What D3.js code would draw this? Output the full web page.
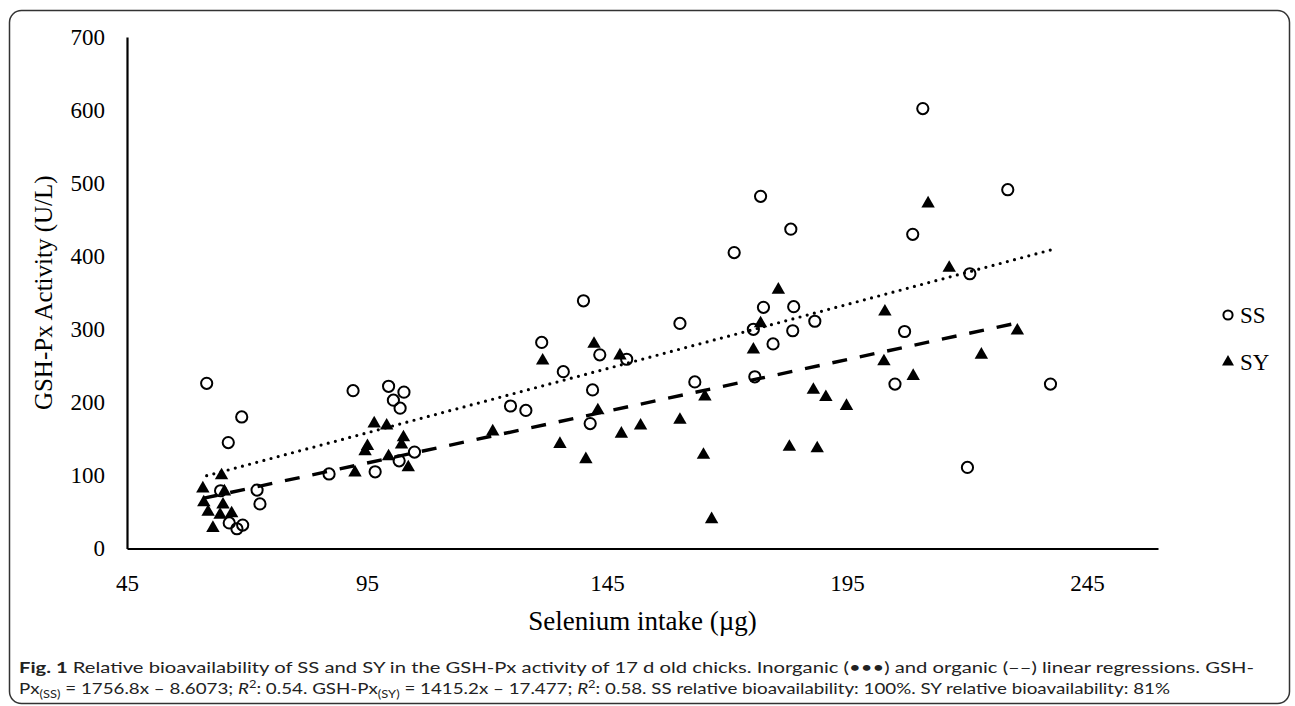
<!DOCTYPE html>
<html>
<head>
<meta charset="utf-8">
<script src="https://cdn.jsdelivr.net/npm/d3@7"></script>
<style>
  html, body { margin: 0; padding: 0; background: #fff; }
  svg { display: block; }
</style>
</head>
<body>
<div id="chart"></div>
<script>
// Sodium selenite (SS) points: selenium intake (µg) vs GSH-Px (U/L)
const ssX = [61.6, 68.9, 66.1, 64.5, 72.1, 72.7, 66.3, 67.9, 69.1,
             92.1, 99.5, 102.7, 100.5, 101.9, 104.9, 101.7, 96.7, 87.1,
             124.9, 128.1, 131.4, 135.9, 140.1, 141.5, 142.0, 143.5, 149.1, 160.2, 163.3, 171.5,
             175.5, 175.8, 177.0, 177.6, 179.6, 183.3, 183.7, 183.9, 188.3, 205.0, 207.0, 208.7,
             210.8, 220.1, 220.6, 228.5, 237.4];
const ssY = [226, 180, 145, 79, 80, 61, 35, 27, 32,
             216, 222, 214, 203, 192, 132, 120, 105, 102,
             195, 189, 282, 242, 339, 171, 217, 265, 259, 308, 228, 405,
             300, 235, 482, 330, 280, 437, 298, 331, 311, 225, 297, 430,
             602, 111, 376, 491, 225];

// Selenium yeast (SY) points
const syX = [60.8, 61.0, 61.9, 62.9, 64.4, 64.7, 65.0, 65.3, 66.8,
             92.5, 94.6, 95.1, 96.5, 99.1, 99.5, 102.2, 102.6, 103.6,
             121.2, 131.6, 135.2, 140.6, 142.3, 143.1, 147.7, 148.0, 152.0, 160.2, 165.1, 165.4, 166.8,
             175.5, 177.0, 180.7, 183.0, 188.0, 188.8, 190.6, 194.9, 202.7, 202.9, 208.8, 211.9,
             216.3, 223.0, 230.5];
const syY = [82, 63, 50, 28, 46, 100, 60, 78, 48,
             104, 133, 140, 171, 168, 126, 142, 152, 111,
             160, 257, 143, 122, 280, 189, 264, 157, 168, 176, 128, 208, 40,
             272, 308, 354, 139, 217, 137, 207, 195, 256, 324, 236, 472,
             384, 265, 298];

// regression coefficients from the caption (x in mg)
const ssFit = [1756.8, -8.6073];
const syFit = [1415.2, -17.477];

const xTicks = [45, 95, 145, 195, 245];
const yTicks = [0, 100, 200, 300, 400, 500, 600, 700];
const seriesNames = ["SS", "SY"];

const W = 1295, H = 706;
const margin = { left: 127, right: 1158, top: 37, bottom: 548.5 };

const svg = d3.select("#chart").append("svg")
  .attr("width", W)
  .attr("height", H);

// outer frame
svg.append("rect")
  .attr("x", 9.5).attr("y", 10.5)
  .attr("width", 1280).attr("height", 693)
  .attr("rx", 12)
  .attr("fill", "none")
  .attr("stroke", "#333")
  .attr("stroke-width", 1.5);

const x = d3.scaleLinear().domain([45, 259.8]).range([margin.left, margin.right]);
const y = d3.scaleLinear().domain([0, 700]).range([margin.bottom, margin.top]);

const serif = "'Liberation Serif', 'Times New Roman', serif";

// axes
const xAxis = svg.append("g")
  .attr("transform", `translate(0,${margin.bottom})`)
  .call(d3.axisBottom(x).tickValues(xTicks).tickSize(0).tickPadding(26));
xAxis.select(".domain").attr("stroke", "#000").attr("stroke-width", 2.2);
xAxis.selectAll("text")
  .attr("font-family", serif).attr("font-size", "23px").attr("fill", "#000");

const yAxis = svg.append("g")
  .attr("transform", `translate(${margin.left},0)`)
  .call(d3.axisLeft(y).tickValues(yTicks).tickSize(0).tickPadding(22));
yAxis.select(".domain").attr("stroke", "#000").attr("stroke-width", 2.2);
yAxis.selectAll("text")
  .attr("font-family", serif).attr("font-size", "23px").attr("fill", "#000");

// axis titles
svg.append("text")
  .attr("x", (margin.left + margin.right) / 2)
  .attr("y", 630)
  .attr("text-anchor", "middle")
  .attr("font-family", serif).attr("font-size", "27px")
  .text("Selenium intake (\u00b5g)");

svg.append("text")
  .attr("transform", `translate(52,${(margin.top + margin.bottom) / 2}) rotate(-90)`)
  .attr("text-anchor", "middle")
  .attr("font-family", serif).attr("font-size", "25px")
  .text("GSH-Px Activity (U/L)");

const ss = ssX.map((d, i) => ({ x: d, y: ssY[i] }));
const sy = syX.map((d, i) => ({ x: d, y: syY[i] }));

const tri = d3.symbol().type(d3.symbolTriangle).size(78);

// SS markers
svg.append("g").selectAll("circle")
  .data(ss).enter().append("circle")
  .attr("cx", d => x(d.x)).attr("cy", d => y(d.y))
  .attr("r", 5.6)
  .attr("fill", "none")
  .attr("stroke", "#000")
  .attr("stroke-width", 2);

// SY markers
svg.append("g").selectAll("path")
  .data(sy).enter().append("path")
  .attr("transform", d => `translate(${x(d.x)},${y(d.y)})`)
  .attr("d", tri)
  .attr("fill", "#000");

// trend lines over each series range
function trend(data, fit) {
  const ext = d3.extent(data, d => d.x);
  return ext.map(v => ({ x: v, y: fit[0] * v / 1000 + fit[1] }));
}
const line = d3.line().x(d => x(d.x)).y(d => y(d.y));

svg.append("path")
  .attr("d", line(trend(ss, ssFit)))
  .attr("fill", "none").attr("stroke", "#000")
  .attr("stroke-width", 3.2)
  .attr("stroke-linecap", "round")
  .attr("stroke-dasharray", "0,7.4");

svg.append("path")
  .attr("d", line(trend(sy, syFit)))
  .attr("fill", "none").attr("stroke", "#000")
  .attr("stroke-width", 3.4)
  .attr("stroke-dasharray", "15,13");

// legend
const legend = svg.append("g");
const leg = legend.selectAll("g").data(seriesNames).enter().append("g")
  .attr("transform", (d, i) => `translate(1228,${315 + i * 47})`);
leg.filter((d, i) => i === 0).append("circle")
  .attr("r", 4.6).attr("fill", "none").attr("stroke", "#000").attr("stroke-width", 2);
leg.filter((d, i) => i === 1).append("path")
  .attr("d", d3.symbol().type(d3.symbolTriangle).size(62)).attr("fill", "#000");
leg.append("text")
  .attr("x", 12).attr("y", 8)
  .attr("font-family", serif).attr("font-size", "23px")
  .text(d => d);

// caption
const sans = "'Lato', 'Noto Sans', sans-serif";
const cap1 = svg.append("text")
  .attr("x", 19).attr("y", 673)
  .attr("font-family", sans).attr("font-size", "16px").attr("fill", "#222")
  .attr("textLength", 1235).attr("lengthAdjust", "spacingAndGlyphs");
cap1.append("tspan").attr("font-weight", "bold").text("Fig. 1");
cap1.append("tspan").text(" Relative bioavailability of SS and SY in the GSH-Px activity of 17 d old chicks. Inorganic (\u2022\u2022\u2022) and organic (\u2013\u2013) linear regressions. GSH-");

const cap2 = svg.append("text")
  .attr("x", 19).attr("y", 694)
  .attr("font-family", sans).attr("font-size", "16px").attr("fill", "#222")
  .attr("textLength", 1151).attr("lengthAdjust", "spacingAndGlyphs");
cap2.append("tspan").text("Px");
cap2.append("tspan").attr("font-size", "11px").attr("dy", 4).text("(SS)");
cap2.append("tspan").attr("dy", -4).text(" = 1756.8x \u2013 8.6073; ");
cap2.append("tspan").attr("font-style", "italic").text("R");
cap2.append("tspan").attr("font-size", "11px").attr("dy", -6).text("2");
cap2.append("tspan").attr("dy", 6).text(": 0.54. GSH-Px");
cap2.append("tspan").attr("font-size", "11px").attr("dy", 4).text("(SY)");
cap2.append("tspan").attr("dy", -4).text(" = 1415.2x \u2013 17.477; ");
cap2.append("tspan").attr("font-style", "italic").text("R");
cap2.append("tspan").attr("font-size", "11px").attr("dy", -6).text("2");
cap2.append("tspan").attr("dy", 6).text(": 0.58. SS relative bioavailability: 100%. SY relative bioavailability: 81%");
</script>
</body>
</html>
